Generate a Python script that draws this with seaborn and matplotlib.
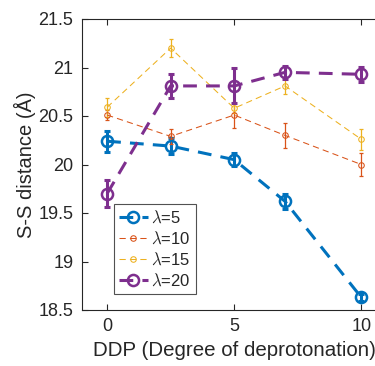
"""S-S distance versus degree of deprotonation for several lambda values."""

import matplotlib

matplotlib.use("Agg")
import matplotlib.pyplot as plt
import numpy as np
import seaborn as sns

DDP = [0, 2.5, 5, 7, 10]

LAMBDAS = ["5", "10", "15", "20"]

DIST_L5 = [20.24, 20.19, 20.05, 19.62, 18.63]
ERR_L5 = [0.11, 0.08, 0.07, 0.08, 0.04]

DIST_L10 = [20.51, 20.29, 20.51, 20.30, 20.00]
ERR_L10 = [0.05, 0.08, 0.13, 0.13, 0.12]

DIST_L15 = [20.59, 21.20, 20.58, 20.81, 20.26]
ERR_L15 = [0.10, 0.09, 0.05, 0.08, 0.11]

DIST_L20 = [19.70, 20.81, 20.81, 20.95, 20.93]
ERR_L20 = [0.14, 0.12, 0.18, 0.07, 0.08]

COLORS = ["#0072BD", "#D95319", "#EDB120", "#7E2F8E"]
INK = "#262626"

sns.set_style("ticks")
plt.rcParams["font.family"] = ["Liberation Sans", "DejaVu Sans"]
plt.rcParams["mathtext.fontset"] = "cm"

fig = plt.figure(figsize=(3.75, 3.66), dpi=100)
# right spine sits outside the cropped figure, like the original
ax = fig.add_axes([81.7 / 375, 56 / 366, 305 / 375, 291 / 366])

series = [
    (DIST_L5, ERR_L5, True),
    (DIST_L10, ERR_L10, False),
    (DIST_L15, ERR_L15, False),
    (DIST_L20, ERR_L20, True),
]

handles = []
for (dist, err, thick), lam, color in zip(series, LAMBDAS, COLORS):
    lw = 2.2 if thick else 0.75
    ms = 8 if thick else 4
    mew = 1.8 if thick else 0.75
    dash = (0, (4.5, 3)) if thick else (0, (6, 4))
    ax.errorbar(
        DDP, dist, yerr=err, fmt="none", ecolor=color,
        elinewidth=lw if thick else 0.9, capsize=2.5 if thick else 1.6,
        capthick=lw if thick else 0.9, zorder=2,
    )
    sns.lineplot(
        x=DDP, y=dist, ax=ax, color=color, linewidth=lw, linestyle=dash,
        marker="o", markersize=ms, markerfacecolor="none",
        markeredgecolor=color, markeredgewidth=mew, zorder=3,
    )
    handles.append(ax.lines[-1])

ax.set_xlim(-1, 11)
ax.set_ylim(18.5, 21.5)
ax.set_xticks([0, 5, 10])
ax.set_yticks(np.arange(18.5, 21.51, 0.5))
ax.set_yticklabels(["18.5", "19", "19.5", "20", "20.5", "21", "21.5"])
ax.tick_params(direction="in", length=4, width=0.8, colors=INK,
               labelsize=13, top=True, right=False, pad=6)
ax.spines["right"].set_visible(False)
for spine in ax.spines.values():
    spine.set_color(INK)
    spine.set_linewidth(0.8)

ax.set_xlabel("DDP (Degree of deprotonation)", fontsize=14.8, color=INK,
              labelpad=4)
ax.set_ylabel("S-S distance (Å)", fontsize=14.5, color=INK, labelpad=2)

leg = ax.legend(
    handles, [rf"$\lambda$=" + lam for lam in LAMBDAS],
    loc="lower left", bbox_to_anchor=(0.105, 0.055), borderaxespad=0,
    fontsize=12, frameon=True, fancybox=False, handlelength=1.75,
    handletextpad=0.2, labelspacing=0.28, borderpad=0.3,
)
leg.get_frame().set_edgecolor(INK)
leg.get_frame().set_linewidth(0.8)
for text in leg.get_texts():
    text.set_color(INK)

fig.savefig("out.png", dpi=100)
